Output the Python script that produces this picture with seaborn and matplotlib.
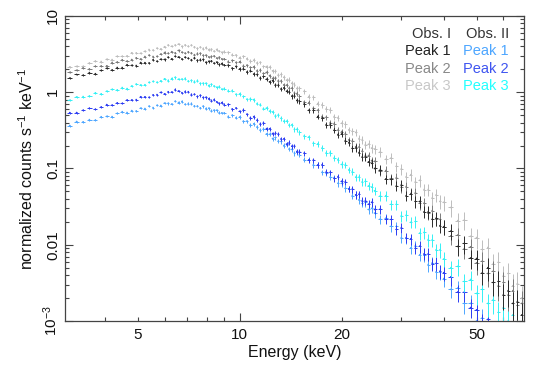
import matplotlib
matplotlib.use("Agg")
import matplotlib.pyplot as plt
import numpy as np
import pandas as pd
import seaborn as sns

# ------------------------------
# Spectra (normalized counts s^-1 keV^-1)
# ------------------------------
energy = [3.00, 3.15, 3.30, 3.45, 3.60, 3.75, 3.90, 4.05, 4.20, 4.35,
          4.50, 4.65, 4.80, 4.95, 5.10, 5.25, 5.40, 5.55, 5.70, 5.85,
          6.00, 6.15, 6.30, 6.45, 6.60, 6.75, 6.90, 7.05, 7.20, 7.35,
          7.50, 7.65, 7.80, 7.95, 8.10, 8.25, 8.40, 8.55, 8.70, 8.85, 9.00,
          9.25, 9.50, 9.75, 10.0, 10.25, 10.5, 10.75, 11.0, 11.25, 11.5,
          11.75, 12.0, 12.25, 12.5, 12.75, 13.0, 13.25, 13.5, 13.75, 14.0,
          14.25, 14.5, 14.75, 15.0,
          15.5, 16.0, 16.5, 17.0, 17.5, 18.0, 18.5, 19.0, 19.5, 20.0,
          20.5, 21.0, 21.5, 22.0, 22.5, 23.0, 23.5, 24.0, 24.5, 25.0,
          26, 27, 28, 29, 30, 31, 32, 33, 34, 35, 36, 37, 38, 39, 40,
          42, 44, 46, 48, 50, 52, 54, 56, 58, 60, 62, 64, 66, 68]

obs1_peak1 = [1.52, 1.53, 1.71, 1.67, 1.81, 1.75, 1.93, 2.06, 1.96, 2.11,
              2.11, 2.30, 2.25, 2.24, 2.45, 2.44, 2.42, 2.67, 2.55, 2.71,
              2.69, 2.88, 2.74, 2.96, 2.90, 2.73, 2.88, 2.79, 2.67, 2.83,
              2.63, 2.67, 2.69, 2.47, 2.54, 2.58, 2.41, 2.48, 2.32, 2.37, 2.28,
              2.27, 2.07, 2.18, 2.02, 2.03, 1.84, 1.92, 1.73, 1.71, 1.54,
              1.61, 1.48, 1.37, 1.42, 1.25, 1.24, 1.11, 1.14, 1.03, 1.01,
              0.89, 0.90, 0.78, 0.76,
              0.702, 0.580, 0.580, 0.480, 0.456, 0.376, 0.376, 0.317, 0.279, 0.284,
              0.232, 0.219, 0.184, 0.187, 0.162, 0.142, 0.143, 0.122, 0.117, 0.100,
              0.097, 0.073, 0.072, 0.059, 0.061, 0.044, 0.046, 0.037, 0.037, 0.027,
              0.027, 0.0216, 0.0223, 0.0178, 0.0171,
              0.0151, 0.0095, 0.0104, 0.0067, 0.0066, 0.0043, 0.0050, 0.0032, 0.0033, 0.0022,
              0.0025, 0.0017, 0.0018, 0.0012]

obs1_peak2 = [1.84, 1.82, 1.94, 2.09, 2.02, 2.19, 2.21, 2.22, 2.45, 2.49,
              2.67, 2.56, 2.68, 2.83, 2.73, 2.94, 3.06, 2.94, 2.95, 3.17,
              3.31, 3.24, 3.40, 3.29, 3.53, 3.35, 3.26, 3.39, 3.28, 3.11,
              3.22, 3.24, 3.05, 3.06, 2.91, 2.95, 2.99, 2.81, 2.88, 2.74, 2.74,
              2.53, 2.61, 2.46, 2.51, 2.21, 2.26, 2.12, 2.15, 1.92, 1.96,
              1.77, 1.82, 1.65, 1.52, 1.55, 1.42, 1.41, 1.25, 1.24, 1.13,
              1.13, 0.98, 0.96, 0.88,
              0.747, 0.730, 0.618, 0.581, 0.480, 0.470, 0.400, 0.387, 0.319, 0.305,
              0.286, 0.238, 0.230, 0.193, 0.192, 0.169, 0.148, 0.148, 0.127, 0.124,
              0.094, 0.094, 0.074, 0.076, 0.057, 0.058, 0.047, 0.048, 0.035, 0.035,
              0.026, 0.028, 0.0219, 0.0215, 0.0173,
              0.0131, 0.0134, 0.0089, 0.0094, 0.0058, 0.0061, 0.0042, 0.0045, 0.0029, 0.0032,
              0.0022, 0.0025, 0.0016, 0.0017]

obs1_peak3 = [1.97, 2.15, 2.18, 2.18, 2.42, 2.56, 2.53, 2.70, 2.68, 2.96,
              2.96, 3.00, 3.29, 3.28, 3.24, 3.44, 3.63, 3.57, 3.78, 3.70,
              3.95, 4.16, 4.01, 4.16, 4.28, 4.00, 4.17, 4.01, 4.15, 3.94,
              3.77, 3.91, 3.74, 3.84, 3.61, 3.67, 3.46, 3.63, 3.47, 3.34, 3.41,
              3.34, 3.09, 3.08, 2.84, 2.96, 2.75, 2.57, 2.63, 2.43, 2.47,
              2.18, 2.17, 2.13, 1.91, 1.89, 1.68, 1.71, 1.57, 1.44, 1.46,
              1.31, 1.26, 1.12, 1.13,
              1.03, 0.878, 0.861, 0.710, 0.683, 0.604, 0.588, 0.480, 0.464, 0.392,
              0.380, 0.322, 0.308, 0.297, 0.247, 0.240, 0.206, 0.208, 0.185, 0.180,
              0.166, 0.132, 0.138, 0.107, 0.099, 0.078, 0.083, 0.067, 0.070, 0.053,
              0.053, 0.041, 0.045, 0.037, 0.036,
              0.0308, 0.0207, 0.0211, 0.0129, 0.0124, 0.0087, 0.0092, 0.0056, 0.0059, 0.0039,
              0.0042, 0.0029, 0.0031, 0.0020]

obs2_peak1 = [0.369, 0.366, 0.413, 0.409, 0.437, 0.431, 0.477, 0.482, 0.479, 0.528,
              0.556, 0.542, 0.574, 0.567, 0.618, 0.611, 0.657, 0.629, 0.673, 0.670,
              0.720, 0.715, 0.701, 0.761, 0.733, 0.756, 0.695, 0.710, 0.709, 0.662,
              0.659, 0.625, 0.657, 0.611, 0.617, 0.572, 0.582, 0.581, 0.539, 0.536, 0.536,
              0.480, 0.500, 0.462, 0.473, 0.417, 0.418, 0.371, 0.385, 0.350, 0.320,
              0.329, 0.284, 0.281, 0.247, 0.255, 0.228, 0.226, 0.200, 0.206, 0.181,
              0.178, 0.159, 0.164, 0.150,
              0.130, 0.130, 0.112, 0.111, 0.089, 0.088, 0.077, 0.076, 0.064, 0.064,
              0.055, 0.054, 0.044, 0.045, 0.039, 0.035, 0.036, 0.029, 0.030, 0.026,
              0.0218, 0.0223, 0.0175, 0.0174, 0.0124, 0.0121, 0.0091, 0.0097, 0.0074, 0.0073,
              0.0055, 0.0058, 0.0044, 0.0044, 0.0036,
              0.0026, 0.0027, 0.0017, 0.0017, 0.0010, 0.0011, 0.0007, 0.0006, 0.0005, 0.0004,
              0.00035, 0.0003, 0.00025, 0.0002]

obs2_peak2 = [0.487, 0.540, 0.541, 0.580, 0.616, 0.597, 0.641, 0.688, 0.678, 0.726,
              0.713, 0.791, 0.792, 0.800, 0.872, 0.871, 0.857, 0.924, 0.931, 0.995,
              0.953, 1.015, 1.006, 1.082, 1.039, 0.986, 1.019, 1.016, 0.933, 0.941,
              0.881, 0.911, 0.855, 0.858, 0.821, 0.774, 0.799, 0.749, 0.714, 0.728, 0.690,
              0.693, 0.603, 0.622, 0.563, 0.583, 0.515, 0.461, 0.478, 0.430, 0.384,
              0.396, 0.333, 0.332, 0.287, 0.290, 0.284, 0.245, 0.245, 0.209, 0.218,
              0.196, 0.198, 0.167, 0.167,
              0.159, 0.129, 0.129, 0.111, 0.112, 0.090, 0.089, 0.074, 0.078, 0.068,
              0.067, 0.054, 0.054, 0.045, 0.046, 0.038, 0.038, 0.034, 0.036, 0.029,
              0.0294, 0.0216, 0.0215, 0.0159, 0.0168, 0.0124, 0.0120, 0.0090, 0.0096, 0.0076,
              0.0076, 0.0056, 0.0057, 0.0045, 0.0043,
              0.0038, 0.0024, 0.0024, 0.0015, 0.0014, 0.00095, 0.00105, 0.0007, 0.0006, 0.0005,
              0.0004, 0.00035, 0.0003, 0.00025]

obs2_peak3 = [0.790, 0.785, 0.868, 0.877, 0.892, 0.983, 0.954, 1.031, 1.088, 1.073,
              1.152, 1.116, 1.208, 1.279, 1.246, 1.254, 1.346, 1.386, 1.350, 1.410,
              1.500, 1.424, 1.510, 1.567, 1.482, 1.488, 1.513, 1.402, 1.430, 1.379,
              1.419, 1.309, 1.313, 1.311, 1.224, 1.272, 1.208, 1.162, 1.182, 1.099, 1.115,
              1.04, 1.05, 0.94, 0.95, 0.88, 0.81, 0.82, 0.80, 0.71, 0.69,
              0.61, 0.62, 0.564, 0.551, 0.495, 0.504, 0.455, 0.417, 0.417, 0.372,
              0.374, 0.326, 0.326, 0.297,
              0.267, 0.259, 0.215, 0.210, 0.185, 0.160, 0.162, 0.137, 0.131, 0.113,
              0.112, 0.096, 0.091, 0.077, 0.077, 0.067, 0.068, 0.059, 0.057, 0.051,
              0.044, 0.044, 0.034, 0.034, 0.024, 0.0244, 0.0197, 0.0202, 0.0142, 0.0145,
              0.0117, 0.0116, 0.0086, 0.0086, 0.0065,
              0.0050, 0.0052, 0.0033, 0.0035, 0.0023, 0.0026, 0.0017, 0.0019, 0.0013, 0.0015,
              0.0010, 0.0012, 0.0008, 0.0009]

# fractional 1-sigma errors per bin
rel_err = [0.03, 0.03, 0.03, 0.03, 0.03, 0.03, 0.03, 0.03, 0.03, 0.03,
           0.03, 0.03, 0.03, 0.03, 0.03, 0.03, 0.03, 0.03, 0.03, 0.03,
           0.035, 0.035, 0.035, 0.035, 0.035, 0.035, 0.035, 0.035, 0.035, 0.035,
           0.04, 0.04, 0.04, 0.04, 0.04, 0.04, 0.04, 0.04, 0.04, 0.04, 0.04,
           0.045, 0.045, 0.045, 0.05, 0.05, 0.05, 0.05, 0.055, 0.055, 0.055,
           0.055, 0.06, 0.06, 0.06, 0.06, 0.065, 0.065, 0.065, 0.065, 0.07,
           0.07, 0.07, 0.07, 0.07,
           0.075, 0.075, 0.08, 0.08, 0.085, 0.085, 0.09, 0.09, 0.095, 0.095,
           0.10, 0.10, 0.105, 0.11, 0.11, 0.115, 0.12, 0.12, 0.125, 0.13,
           0.14, 0.14, 0.15, 0.15, 0.16, 0.16, 0.17, 0.17, 0.18, 0.18,
           0.19, 0.20, 0.20, 0.21, 0.22,
           0.24, 0.25, 0.27, 0.28, 0.30, 0.31, 0.33, 0.34, 0.36, 0.37,
           0.39, 0.41, 0.43, 0.45]

series = [
    ("Obs. II Peak 1", obs2_peak1, "#4da6ff"),
    ("Obs. II Peak 2", obs2_peak2, "#2b3cf2"),
    ("Obs. II Peak 3", obs2_peak3, "#33f0f5"),
    ("Obs. I Peak 3", obs1_peak3, "#bdbdbd"),
    ("Obs. I Peak 2", obs1_peak2, "#7a7a7a"),
    ("Obs. I Peak 1", obs1_peak1, "#2a2a2a"),
]

sns.set_style("ticks")
plt.rcParams['font.family'] = ['Liberation Sans', 'DejaVu Sans']
plt.rcParams['mathtext.default'] = 'regular'

frames = []
for name, vals, _ in series:
    part = pd.DataFrame({"energy": energy, "flux": vals, "rel": rel_err})
    part["err"] = part.flux * part.rel
    part["series"] = name
    frames.append(part)
df = pd.concat(frames, ignore_index=True)

# half-widths of the crosses: a fraction of the gap to neighbouring bins
E = np.array(energy, dtype=float)
gaps = np.diff(E)
xlo = 0.35 * np.r_[gaps[0], gaps]
xhi = 0.35 * np.r_[gaps, gaps[-1]]

fig = plt.figure(figsize=(5.41, 3.72), dpi=100)
ax = fig.add_axes([0.1201, 0.1371, 0.8484, 0.8199])
ax.set_xscale('log')
ax.set_yscale('log')

for name, _, color in series:
    sub = df[df.series == name]
    ax.errorbar(sub.energy, sub.flux, yerr=sub.err, xerr=[xlo, xhi], fmt='none',
                ecolor=color, elinewidth=0.7, capsize=0)
palette = {name: color for name, _, color in series}
sns.scatterplot(data=df, x='energy', y='flux', hue='series', palette=palette,
                s=1.5, linewidth=0, legend=False, ax=ax)

ax.set_xlim(3.05, 69)
ax.set_ylim(1e-3, 10)

# x ticks: long tick at 10 only, labels at 5, 10, 20, 50
ax.set_xticks([10])
ax.set_xticklabels(['10'])
minor_x = [4, 5, 6, 7, 8, 9, 20, 30, 40, 50, 60]
ax.set_xticks(minor_x, labels=['', '5', '', '', '', '', '20', '', '', '50', ''], minor=True)

ax.set_yticks([1e-3, 1e-2, 0.1, 1, 10])
ax.set_yticklabels(['$10^{-3}$', '0.01', '0.1', '1', '10'], rotation=90, va='center')
ax.set_yticks([m * d for d in [1e-3, 1e-2, 0.1, 1] for m in range(2, 10)], minor=True)
ax.yaxis.set_minor_formatter(matplotlib.ticker.NullFormatter())

ax.tick_params(which='both', direction='in', top=True, right=True,
               color='#444444', labelsize=11, labelcolor='#111111')
ax.tick_params(which='major', length=6, width=0.8)
ax.tick_params(which='minor', length=3, width=0.8)
ax.tick_params(axis='x', which='both', pad=5)
for sp in ax.spines.values():
    sp.set_color('#444444')
    sp.set_linewidth(0.9)

ax.set_xlabel('Energy (keV)', fontsize=11.5, color='#111111', labelpad=2)
ax.set_ylabel('normalized counts s$^{-1}$ keV$^{-1}$', fontsize=11.5, color='#111111', labelpad=4)

# legend written as coloured text, two columns
legend_cols = [
    (0.841, "Obs. I", ["#222222", "#888888", "#c8c8c8"]),
    (0.967, "Obs. II", ["#4da6ff", "#3f55f0", "#22ffff"]),
]
row_y = [0.885, 0.826, 0.770]
for xpos, head, colors in legend_cols:
    ax.text(xpos, 0.941, head, transform=ax.transAxes, ha='right', va='center',
            fontsize=10.5, color='#333333')
    for i, c in enumerate(colors):
        ax.text(xpos, row_y[i], f"Peak {i + 1}", transform=ax.transAxes,
                ha='right', va='center', fontsize=10.5, color=c)

fig.savefig('out.png', dpi=100)
